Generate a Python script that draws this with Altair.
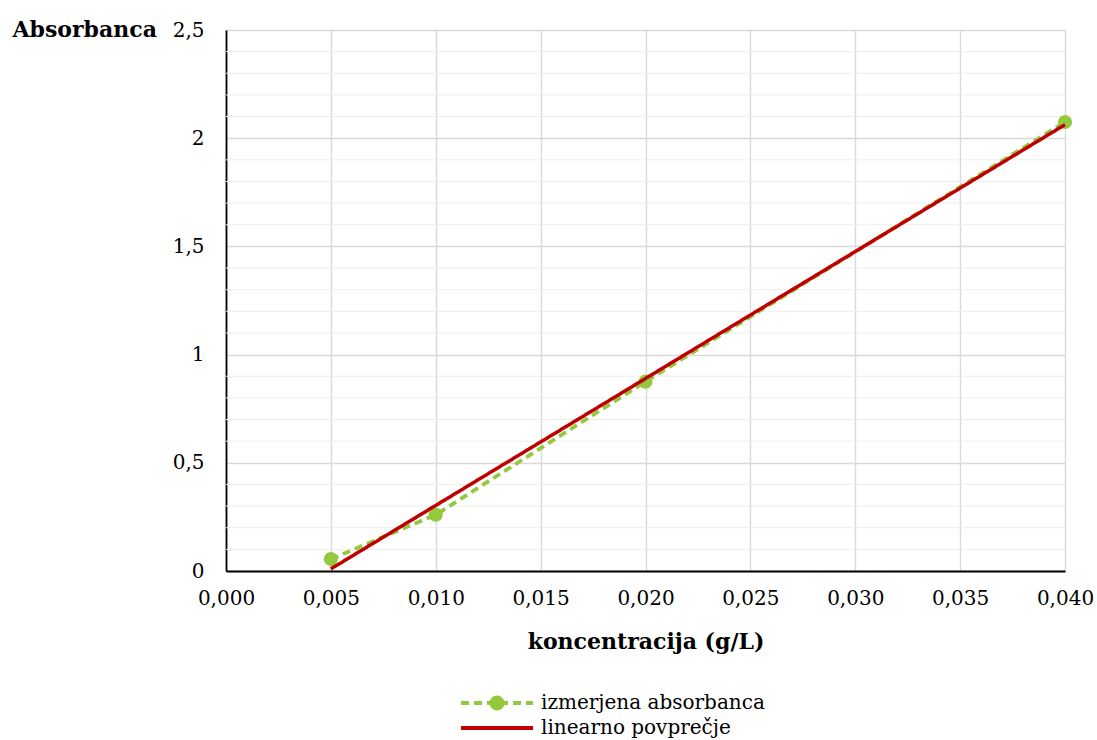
import altair as alt
import pandas as pd

# data
konc = [0.005, 0.010, 0.020, 0.040]
absorb = [0.055, 0.26, 0.875, 2.075]
x_ticks = [0.000, 0.005, 0.010, 0.015, 0.020, 0.025, 0.030, 0.035, 0.040]
y_major = [0, 0.5, 1.0, 1.5, 2.0, 2.5]
y_minor = [0.1, 0.2, 0.3, 0.4, 0.6, 0.7, 0.8, 0.9, 1.1, 1.2, 1.3, 1.4,
           1.6, 1.7, 1.8, 1.9, 2.1, 2.2, 2.3, 2.4]
S_MEAS = "izmerjena absorbanca"
S_FIT = "linearno povprečje"

GREEN = "#94C83D"
RED = "#C00000"
FONT = "DejaVu Serif"

df = pd.DataFrame({"x": konc, "y": absorb, "series": [S_MEAS] * len(konc)})
minor_df = pd.DataFrame({"y": y_minor})

xscale = alt.Scale(domain=[0, 0.04], nice=False, zero=False)
yscale = alt.Scale(domain=[0, 2.5], nice=False)

color_scale = alt.Scale(domain=[S_MEAS, S_FIT], range=[GREEN, RED])
dash_scale = alt.Scale(domain=[S_MEAS, S_FIT], range=[[8, 5], [1, 0]])

main_legend = alt.Legend(
    title=None, orient="none", legendX=261, legendY=663, direction="vertical",
    symbolType="M-4.8,0H4.8", symbolSize=225, symbolStrokeWidth=4,
    symbolFillColor="transparent",
    labelFont=FONT, labelFontSize=20, labelColor="#000000", labelOffset=34,
    rowPadding=5, labelLimit=400,
)

xaxis = alt.Axis(
    values=x_ticks, format=".3f", labelExpr="replace(datum.label, '.', ',')",
    title="koncentracija (g/L)", titleFont=FONT, titleFontSize=22,
    titleFontWeight="bold", titleColor="#000000", titleY=77,
    titleBaseline="alphabetic",
    labelFont=FONT, labelFontSize=20, labelColor="#000000", labelPadding=17,
    labelFlush=False, labelOverlap=False,
    ticks=False, domainColor="#000000", domainWidth=1.8,
    gridColor="#D9D9D9", gridWidth=1.4,
)
yaxis = alt.Axis(
    values=y_major, format="~g", labelExpr="replace(datum.label, '.', ',')",
    title="Absorbanca", titleFont=FONT, titleFontSize=22, titleFontWeight="bold",
    titleColor="#000000", titleAngle=0, titleAlign="left",
    titleBaseline="alphabetic", titleX=-214, titleY=6,
    labelFont=FONT, labelFontSize=20, labelColor="#000000", labelPadding=22,
    labelFlush=False, labelOverlap=False,
    ticks=False, domainColor="#000000", domainWidth=1.8,
    gridColor="#D9D9D9", gridWidth=1.4,
)

minor = alt.Chart(minor_df).mark_rule(color="#EDEDED", strokeWidth=1).encode(
    y=alt.Y("y:Q", scale=yscale, axis=yaxis)
)

meas_line = alt.Chart(df).mark_line(strokeWidth=3.8).encode(
    x=alt.X("x:Q", scale=xscale, axis=xaxis),
    y=alt.Y("y:Q", scale=yscale, axis=yaxis),
    color=alt.Color("series:N", scale=color_scale, legend=main_legend),
    strokeDash=alt.StrokeDash("series:N", scale=dash_scale, legend=main_legend),
)

points = alt.Chart(df).mark_point(filled=True, size=200, opacity=1, color=GREEN).encode(
    x=alt.X("x:Q", scale=xscale, axis=xaxis),
    y=alt.Y("y:Q", scale=yscale, axis=yaxis),
    shape=alt.Shape(
        "series:N",
        scale=alt.Scale(domain=[S_MEAS], range=["circle"]),
        legend=alt.Legend(
            title=None, orient="none", legendX=261, legendY=663,
            symbolSize=225, symbolFillColor=GREEN, symbolStrokeColor=GREEN,
            symbolStrokeWidth=0, labelExpr="''", labelFontSize=20,
            labelFont=FONT, labelOffset=34,
        ),
    ),
)

fit_line = alt.Chart(df).transform_regression("x", "y").transform_calculate(
    series=f"'{S_FIT}'"
).mark_line(strokeWidth=3.5).encode(
    x=alt.X("x:Q", scale=xscale, axis=xaxis),
    y=alt.Y("y:Q", scale=yscale, axis=yaxis),
    color=alt.Color("series:N", scale=color_scale, legend=main_legend),
    strokeDash=alt.StrokeDash("series:N", scale=dash_scale, legend=main_legend),
)

chart = alt.layer(minor, meas_line, points, fit_line).properties(
    width=839, height=541,
    padding={"left": 226, "top": 30, "right": 32, "bottom": 169},
    autosize=alt.AutoSizeParams(type="none"),
).configure_view(stroke=None).configure(background="#FFFFFF")

chart.save("out.html", embed_options={"renderer": "svg", "actions": False})
